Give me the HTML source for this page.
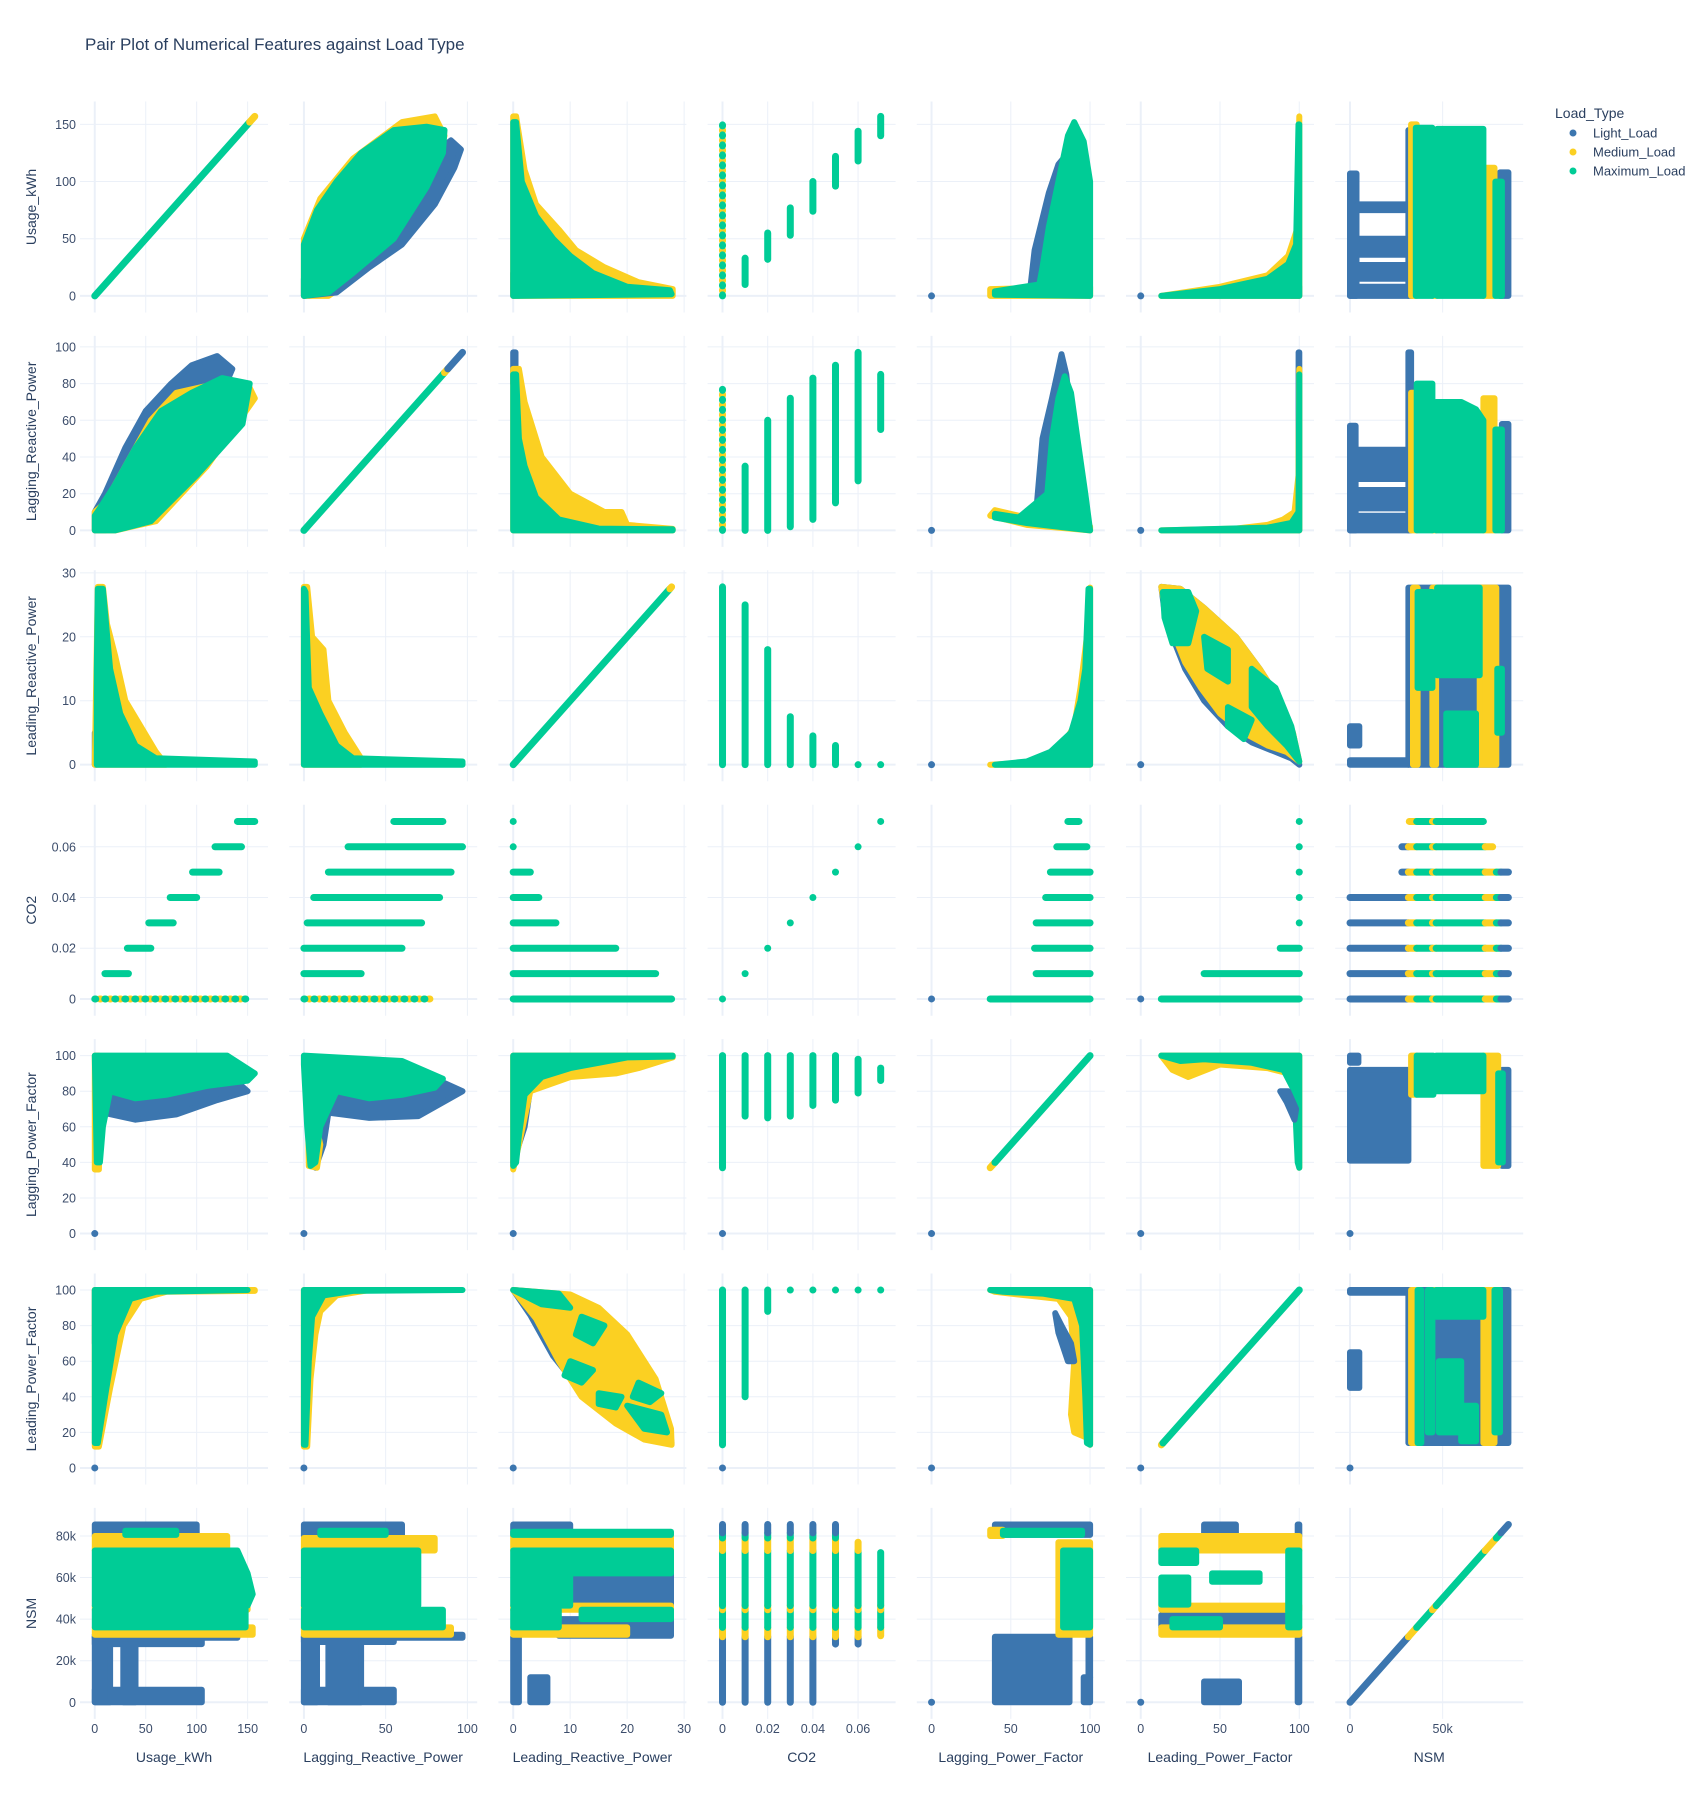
<!DOCTYPE html>
<html><head><meta charset="utf-8"><style>
html,body{margin:0;padding:0;background:#fff;}
svg{display:block;font-family:"Liberation Sans",sans-serif;}
</style></head><body>
<svg id="chart" width="1700" height="1800" viewBox="0 0 1700 1800" xmlns="http://www.w3.org/2000/svg">
<rect width="1700" height="1800" fill="#fff"/>
<text x="85" y="50" font-size="17" fill="#2a3f5f">Pair Plot of Numerical Features against Load Type</text>
<g id="grid"></g>
<g id="marks"></g>
<g id="labels"></g>
<g>
<text x="1555" y="118" font-size="14" fill="#2a3f5f">Load_Type</text>
<g><circle cx="1573" cy="133" r="3.5" fill="#3c76af"/><text x="1593" y="137.5" font-size="13" fill="#2a3f5f">Light_Load</text></g>
<g><circle cx="1573" cy="152" r="3.5" fill="#fbd022"/><text x="1593" y="156.5" font-size="13" fill="#2a3f5f">Medium_Load</text></g>
<g><circle cx="1573" cy="171" r="3.5" fill="#00cc96"/><text x="1593" y="175.5" font-size="13" fill="#2a3f5f">Maximum_Load</text></g>
</g>
</svg>
<script>
const features = ['Usage_kWh','Lagging_Reactive_Power','Leading_Reactive_Power','CO2','Lagging_Power_Factor','Leading_Power_Factor','NSM'];
const rangeLo = [-14.5,-9,-2.6,-0.0066,-9.3,-9.3,-8000];
const rangeHi = [170,106,30.4,0.0766,109.3,109.3,93500];
const yTicks = [[0,50,100,150],[0,20,40,60,80,100],[0,10,20,30],[0,0.02,0.04,0.06],[0,20,40,60,80,100],[0,20,40,60,80,100],[0,20000,40000,60000,80000]];
const xTicks = [[0,50,100,150],[0,50,100],[0,10,20,30],[0,0.02,0.04,0.06],[0,50,100],[0,50,100],[0,50000]];
const classColors = ['#3c76af','#fbd022','#00cc96'];
const co2Levels = [0,0.01,0.02,0.03,0.04,0.05,0.06,0.07];
const co2Spans = {
 0:[[0,150],[10,33],[32,55],[53,77],[74,100],[96,122],[118,144],[140,157]],
 1:[[0,78],[0,35],[0,60],[2,72],[6,83],[15,90],[27,97],[55,85]],
 2:[[0,27.8],[0,25],[0,18],[0,7.5],[0,4.5],[0,3],[0,0],[0,0]],
 4:[[37,100],[66,100],[65,100],[66,100],[72,100],[75,100],[79,98],[86,93]],
 5:[[13,100],[40,100],[88,100],[100,100],[100,100],[100,100],[100,100],[100,100]],
 6:[[0,85500],[0,85500],[0,85500],[0,85500],[0,85500],[28000,85500],[28000,77000],[32000,72000]]
};
const co2Sparse = [true,true,false,false,false,false,false];
const nsmBands = [[0,31500,0],[31500,36000,1],[36000,44500,2],[44500,46500,1],[46500,73000,2],[73000,79000,1],[79000,81500,2],[81500,85500,0]];
const diagBands = {
 0:[[0,152,2],[152,157,1]],
 1:[[0,86,2],[86,88,1],[88,97,0]],
 2:[[0,27.5,2],[27.5,27.8,1]],
 4:[[37,40,1],[40,100,2]],
 5:[[13,14,1],[14,100,2]],
 6:nsmBands
};
const zeroDotPanels = [[0,4],[0,5],[1,4],[1,5],[2,4],[2,5],[3,4],[3,5],[4,0],[4,1],[4,2],[4,3],[4,4],[4,5],[4,6],[5,0],[5,1],[5,2],[5,3],[5,4],[5,5],[5,6],[6,4],[6,5]];
const shapes = [
 // row 0: Usage_kWh
 [0,1,1,[0,0,15,0,30,15,55,48,78,100,86,140,80,157,60,152,30,120,10,85,0,50]],
 [0,1,0,[0,0,20,3,40,25,60,45,80,80,92,112,96,128,90,136,80,125,60,90,40,55,10,20,0,15]],
 [0,1,2,[0,0,15,3,30,20,55,50,75,95,85,125,86,145,75,148,55,145,35,125,20,100,8,75,0,45]],
 [0,2,0,[0,0,1,0,1,20,0,20]],
 [0,2,1,[0,0,28,0,28,6,22,12,16,25,11,40,8,58,4,80,2,110,0.5,157,0,157]],
 [0,2,2,[0,0,27.8,1.5,27.5,5,20,8,14,20,10,35,7,50,4,70,1.5,100,0.5,152,0,152]],
 [0,4,1,[37,0,100,0,100,8,37,6]],
 [0,4,0,[62,3,72,3,82,60,88,110,86,125,80,115,74,90,65,40]],
 [0,4,2,[40,1,100,0,100,100,96,135,90,152,86,140,80,100,74,60,70,25,68,10,40,4]],
 [0,5,0,[95,0,100,8]],
 [0,5,1,[13,0,50,8,80,18,93,35,99,60,100,157,100,0]],
 [0,5,2,[13,0,50,6,80,15,93,28,98,45,99.5,150,100,150,100,0]],
 [0,6,0,[0,0,31500,8]],[0,6,0,[0,15,31500,27]],[0,6,0,[0,36,31500,50]],[0,6,0,[0,0,3500,107]],[0,6,0,[4000,75,31500,80]],[0,6,0,[31500,0,33500,145]],[0,6,0,[81000,0,85500,108]],
 [0,6,1,[33000,0,36000,150]],[0,6,1,[72000,0,78000,112]],[0,6,1,[44500,0,47000,140]],
 [0,6,2,[35500,0,44500,147]],[0,6,2,[47000,0,72000,146]],[0,6,2,[78500,0,82000,100]],
 // row 1: Lagging_Reactive_Power
 [1,0,0,[0,0,10,0,50,20,90,50,125,75,135,88,120,95,95,90,75,80,50,65,30,45,10,20,0,10]],
 [1,0,1,[0,0,20,0,60,5,110,35,157,72,150,80,120,80,80,75,55,60,30,35,10,15,0,10]],
 [1,0,2,[0,0,20,0,55,5,100,30,145,58,152,80,125,83,95,75,65,65,40,45,20,25,5,12,0,8]],
 [1,2,0,[0,80,0.4,97]],
 [1,2,1,[0,0,28,0,28,0.8,20,3,19,10,16,10,10,20,5,40,2,70,1,88,0,88]],
 [1,2,2,[0,0,28,0,28,0.6,15,1,8,6,4,18,2,35,1,50,0.5,85,0,85]],
 [1,4,1,[37,8,60,3,100,0,100,2,60,7,40,11]],
 [1,4,0,[66,10,70,50,76,72,80,88,82,96,85,85,88,60,85,10]],
 [1,4,2,[40,7,60,4,100,0,97,20,92,50,88,75,84,84,80,72,76,50,73,20,55,7,40,9]],
 [1,5,0,[99.6,0,100,97]],
 [1,5,1,[13,0,60,1,80,3,90,6,97,10,99.5,30,100,88,100,0]],
 [1,5,2,[13,0,80,1.5,95,4,99.5,10,100,85,100,0]],
 [1,6,0,[0,0,31500,8]],[1,6,0,[0,12,31500,22]],[1,6,0,[0,28,31500,44]],[1,6,0,[0,0,3000,57]],[1,6,0,[31500,0,33000,97]],[1,6,0,[82000,0,85500,58]],
 [1,6,1,[33000,0,36000,75]],[1,6,1,[72000,0,78000,72]],[1,6,1,[44500,0,46500,70]],
 [1,6,2,[36000,0,44500,80]],[1,6,2,[46500,0,46500,70,60000,70,68000,66,72000,60,72000,0]],[1,6,2,[78500,0,82000,55]],
 // row 2: Leading_Reactive_Power
 [2,0,0,[0,0,1.5,5]],
 [2,0,1,[0,0,70,0,60,2,45,6,30,10,20,17,12,22,8,27.8,3,27.8]],
 [2,0,2,[2,0,157,0,157,0.5,60,1,40,3,25,8,15,15,8,27.5,3,27.5,2,15]],
 [2,1,1,[0,0,35,0,35,1,25,5,15,10,12,18,5,20,2,27.8,0,27.8]],
 [2,1,2,[0,0,97,0,97,0.5,30,1,20,3,10,8,3,12,1,27,0,27.5]],
 [2,4,1,[37,0,60,0.3,80,2,90,6,94,12,98,20,100,27.7,100,0]],
 [2,4,0,[60,0.2,75,1.2,85,3,90,5,88,3,75,0.5]],
 [2,4,2,[40,0,100,0,100,27.5,99,27.5,97,15,94,10,88,5,75,2,60,0.5]],
 [2,5,0,[13,27.8,25,27.5,40,24.5,60,20,75,15,88,10,96,5,100,0,95,1,85,2,70,3.5,55,6,40,10,28,15,20,20,15,24]],
 [2,5,1,[13,27.8,25,27.5,40,24.5,60,20,75,15,88,10,96,5,100,0.5,92,2,80,3,65,5,50,8,38,12,28,16,20,21,15,25]],
 [2,5,2,[14,27,30,27,35,24,30,19,20,19,15,23]],[2,5,2,[70,15,85,12,95,6,100,0.5,92,3,80,6,70,9]],[2,5,2,[40,20,55,18,55,13,42,15]],[2,5,2,[55,9,70,7,65,4,55,6]],
 [2,6,0,[0,0,31500,0.7]],[2,6,0,[0,3,5000,6]],[2,6,0,[31500,0,85500,27.7]],
 [2,6,1,[34000,0,36500,27.7]],[2,6,1,[44500,0,46500,27.7]],[2,6,1,[70000,0,79000,27.7]],
 [2,6,2,[36500,12,44500,27]],[2,6,2,[47000,14,70000,27.7]],[2,6,2,[52000,0,68000,8]],[2,6,2,[79500,5,82000,15]],
 // row 4: Lagging_Power_Factor
 [4,0,0,[8,68,40,64,80,67,120,75,150,80,140,85,100,82,60,76,20,82,10,85]],
 [4,0,1,[0,36,4,36,5,60,4,100,0,100]],
 [4,0,2,[0,100,130,100,157,90,150,86,110,83,70,78,40,76,15,80,8,60,5,40,2,40]],
 [4,1,0,[7,37,12,50,15,68,40,65,70,66,97,80,85,85,60,80,20,85,10,80]],
 [4,1,1,[3,38,8,37,10,50,5,70,2,90]],
 [4,1,2,[0,100,60,97,85,87,80,82,60,78,40,76,20,80,10,60,7,40,4,38,2,60,0,95]],
 [4,2,0,[0,40,2,60,3,82,5,88,2,88,1,70]],
 [4,2,1,[0,36,1,50,3,80,10,88,18,90,22,93,28,99,28,100,0,100]],
 [4,2,2,[0,100,28,100,28,99.5,20,99,15,96,10,93,5,88,2,78,1,55,0.5,40,0,38]],
 [4,5,1,[13,100,20,92,30,88,50,95,80,93,93,90,97,80,100,37,100,100]],
 [4,5,2,[13,100,100,100,100,37,99,40,97,80,90,92,70,96,40,98,25,97]],
 [4,5,0,[88,80,92,74,97,64,98,70,93,80]],
 [4,6,0,[0,41,31500,92]],[4,6,0,[0,96,4500,100]],[4,6,0,[82000,38,85500,92]],
 [4,6,1,[33000,78,36000,100]],[4,6,1,[72000,38,80000,100]],
 [4,6,2,[36000,78,45000,100]],[4,6,2,[46500,80,72000,100]],[4,6,2,[80000,40,82500,90]],
 // row 5: Leading_Power_Factor
 [5,0,0,[0,70,2,100]],
 [5,0,1,[0,12,4,12,15,45,28,80,45,95,70,99,157,99.5,157,100,0,100]],
 [5,0,2,[0,14,3,14,10,40,20,75,35,95,60,99,150,100,0,100]],
 [5,1,1,[0,12,2,12,4,50,7,75,10,88,20,97,40,100,0,100]],
 [5,1,2,[0,13,1,13,3,60,5,85,12,97,30,99.5,97,100,0,100]],
 [5,2,0,[0,100,10,97,15,88,20,70,25,45,27.5,20,27.8,14,22,19,17,28,12,43,7,63,3,86]],
 [5,2,1,[0,100,10,97.5,15,90,20,75,25,50,27.7,22,27.8,13,23,16,18,25,12,40,8,60,4,84]],
 [5,2,2,[0,100,8,98,10,90,5,92]],[5,2,2,[12,85,16,80,14,70,11,75]],[5,2,2,[20,35,26,30,27,20,23,22]],[5,2,2,[10,60,14,55,12,48,9,52]],[5,2,2,[15,42,19,40,18,34,15,36]],[5,2,2,[22,48,26,42,24,37,21,40]],
 [5,4,1,[37,100,40,99,60,97,80,95,88,85,90,60,88,30,90,20,98,17,100,13,100,100]],
 [5,4,2,[37,100,100,100,100,13,98,14,97,40,95,80,90,95,70,98,45,99]],
 [5,4,0,[78,87,82,80,88,70,90,60,86,60,80,76]],
 [5,6,0,[0,98.5,31500,100]],[5,6,0,[0,45,5000,65]],[5,6,0,[31500,14,85500,100]],
 [5,6,1,[33000,14,36500,100]],[5,6,1,[72000,14,78000,100]],[5,6,1,[44500,90,46500,100]],
 [5,6,2,[36500,14,38500,100]],[5,6,2,[42000,20,44500,100]],[5,6,2,[46500,85,72000,100]],[5,6,2,[48000,20,60000,60]],[5,6,2,[60000,15,68000,35]],[5,6,2,[78000,20,81000,100]],
 // row 6: NSM
 [6,0,0,[0,0,105,6000]],[6,0,0,[0,0,15,31500]],[6,0,0,[28,0,40,31500]],[6,0,0,[0,28000,105,31500]],[6,0,0,[0,80000,100,85500]],[6,0,0,[0,31000,140,32500]],
 [6,0,1,[0,32500,155,36000]],[6,0,1,[0,73000,130,80000]],[6,0,1,[0,44500,150,46500]],
 [6,0,2,[0,36000,148,44500]],[6,0,2,[0,46500,150,46500,155,52000,150,62000,140,73000,0,73000]],[6,0,2,[30,80500,80,82500]],
 [6,1,0,[0,0,55,6000]],[6,1,0,[0,0,8,31500]],[6,1,0,[15,0,35,31500]],[6,1,0,[0,29000,55,31500]],[6,1,0,[0,31000,97,32500]],[6,1,0,[0,80000,60,85500]],
 [6,1,1,[0,32500,90,36000]],[6,1,1,[0,73000,80,79000]],[6,1,1,[0,44500,60,46500]],
 [6,1,2,[0,36000,85,44500]],[6,1,2,[0,46500,70,73000]],[6,1,2,[10,80500,50,82500]],
 [6,2,0,[0,0,1,31500]],[6,2,0,[3,0,6,12000]],[6,2,0,[0,80000,10,85500]],[6,2,0,[8,32000,27.7,40000]],[6,2,0,[10,46500,27.7,62000]],
 [6,2,1,[0,73000,27.7,80000]],[6,2,1,[0,44500,27.7,46500]],[6,2,1,[0,32500,20,36000]],
 [6,2,2,[0,46500,10,73000]],[6,2,2,[0,36000,8,44500]],[6,2,2,[10,62000,27.7,73000]],[6,2,2,[12,40000,27.7,44500]],[6,2,2,[0,80500,27.7,82000]],
 [6,4,0,[40,0,87,31500]],[6,4,0,[96,0,100,12000]],[6,4,0,[40,80500,100,85500]],[6,4,0,[99,12000,100,31500]],
 [6,4,1,[37,80000,45,83000]],[6,4,1,[80,32500,100,77000]],
 [6,4,2,[45,80500,95,82500]],[6,4,2,[83,36000,100,73000]],
 [6,5,0,[99,0,100,31500]],[6,5,0,[40,0,62,10000]],[6,5,0,[13,36000,90,42000]],[6,5,0,[40,80500,60,85500]],[6,5,0,[99,80000,100,85500]],
 [6,5,1,[13,73000,100,80000]],[6,5,1,[13,44500,100,46500]],[6,5,1,[13,32500,100,36000]],
 [6,5,2,[13,67000,35,73000]],[6,5,2,[93,36000,100,73000]],[6,5,2,[13,47000,30,60000]],[6,5,2,[45,58000,75,62000]],[6,5,2,[20,36000,50,40000]]
];

const NS='http://www.w3.org/2000/svg';
const W=188, H=211, X0=80, PX=209.2, Y0=101.5, PY=234.4;
const colLeft = c => X0 + c*PX;
const rowTop = r => Y0 + r*PY;
function sx(c,v){ return colLeft(c) + (v-rangeLo[c])/(rangeHi[c]-rangeLo[c])*W; }
function sy(r,v){ return rowTop(r) + H - (v-rangeLo[r])/(rangeHi[r]-rangeLo[r])*H; }
function mk(tag, attrs, parent){ const e=document.createElementNS(NS,tag); for(const k in attrs) e.setAttribute(k,attrs[k]); parent.appendChild(e); return e; }
function fmt(i,v){ if(i===6) return v===0?'0':(v/1000)+'k'; return String(v); }
const grid=document.getElementById('grid'), marks=document.getElementById('marks'), labels=document.getElementById('labels');

for(let r=0;r<7;r++){ for(let c=0;c<7;c++){
  const g=mk('g',{},grid);
  
  
  xTicks[c].forEach(t=>{ const x=sx(c,t); const ln=mk('line',{x1:x,x2:x,y1:rowTop(r),y2:rowTop(r)+H,stroke:'#ebf0f8','stroke-width':t===0?2:1},g);
      });
  yTicks[r].forEach(t=>{ const y=sy(r,t); const ln=mk('line',{x1:colLeft(c),x2:colLeft(c)+W,y1:y,y2:y,stroke:'#ebf0f8','stroke-width':t===0?2:1},g);
      });
}}

function seg(r,c,k,x1,y1,x2,y2,extra){
  const ln=mk('line',Object.assign({x1:sx(c,x1),y1:sy(r,y1),x2:sx(c,x2),y2:sy(r,y2),stroke:classColors[k],'stroke-width':7,'stroke-linecap':'round'},extra||{}),marks);
  
  
}
// diagonal panels
for(let v=0;v<7;v++){
  if(v===3){
    co2Levels.forEach(l=>{ const d=mk('circle',{cx:sx(3,l),cy:sy(3,l),r:3.5,fill:classColors[2]},marks);
        });
    continue;
  }
  diagBands[v].forEach(b=>seg(v,v,b[2],b[0],b[0],b[1],b[1]));
}
// CO2 panels
for(let v=0;v<7;v++){
  if(v===3) continue;
  co2Levels.forEach((l,i)=>{
    const sp=co2Spans[v][i];
    if(v===6){
      nsmBands.forEach(b=>{ const a=Math.max(b[0],sp[0]), e=Math.min(b[1],sp[1]); if(e>a){ seg(3,6,b[2],a,l,e,l); seg(6,3,b[2],l,a,l,e); } });
      return;
    }
    const extra = (co2Sparse[v]&&i===0)?{'stroke-dasharray':'1 9'}:null;
    const extra2 = (co2Sparse[v]&&i===0)?{'stroke-dasharray':'1 9','stroke-dashoffset':5}:null;
    if(extra){ seg(3,v,1,sp[0],l,sp[1],l,extra2); seg(v,3,1,l,sp[0],l,sp[1],extra2); }
    seg(3,v,2,sp[0],l,sp[1],l,extra);
    seg(v,3,2,l,sp[0],l,sp[1],extra);
  });
}
// blob shapes
shapes.forEach(s=>{
  const [r,c,k,p]=s; let pts=p;
  if(p.length===4) pts=[p[0],p[1],p[2],p[1],p[2],p[3],p[0],p[3]];
  let str=''; for(let i=0;i<pts.length;i+=2) str+=sx(c,pts[i]).toFixed(1)+','+sy(r,pts[i+1]).toFixed(1)+' ';
  const pg=mk('polygon',{points:str,fill:classColors[k],stroke:classColors[k],'stroke-width':6,'stroke-linejoin':'round'},marks);
  
  
});
zeroDotPanels.forEach(([r,c])=>{
  const d=mk('circle',{cx:sx(c,0),cy:sy(r,0),r:3.5,fill:classColors[0]},marks);
  
  
});
// labels
for(let r=0;r<7;r++){
  yTicks[r].forEach(t=>{ const e=mk('text',{x:76,y:sy(r,t)+4.5,'text-anchor':'end','font-size':12.5,fill:'#3c4d6b'},labels); e.textContent=fmt(r,t);
      });
  const cy=rowTop(r)+H/2;
  const tt=mk('text',{x:36,y:cy,'text-anchor':'middle','font-size':14,fill:'#2a3f5f',transform:'rotate(-90 36 '+cy+')'},labels); tt.textContent=features[r];
   
}
for(let c=0;c<7;c++){
  xTicks[c].forEach(t=>{ const e=mk('text',{x:sx(c,t),y:1733,'text-anchor':'middle','font-size':12.5,fill:'#3c4d6b'},labels); e.textContent=fmt(c,t);
      });
  const tt=mk('text',{x:colLeft(c)+W/2,y:1762,'text-anchor':'middle','font-size':14,fill:'#2a3f5f'},labels); tt.textContent=features[c];
   
}
</script>
</body></html>
